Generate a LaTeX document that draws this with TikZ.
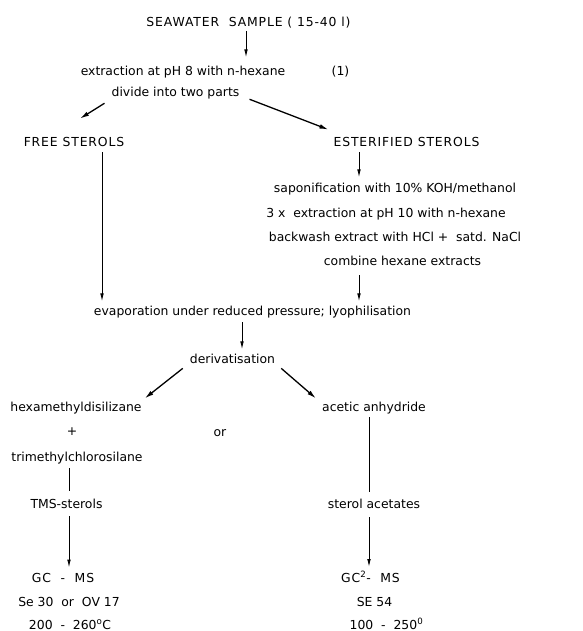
\documentclass[tikz,border=0pt]{standalone}
\usepackage{fontspec}
\setmainfont{DejaVu Sans}
\usetikzlibrary{arrows.meta}
\begin{document}
\begin{tikzpicture}[x=1pt,y=-1pt,
  lbl/.style={anchor=base,inner sep=0pt,font=\fontsize{12.4}{14}\selectfont},
  caps/.style={lbl,font=\fontsize{12.4}{14}\selectfont\addfontfeature{LetterSpace=7}},
  arr/.style={-{Latex[length=8pt,width=3.6pt]},line width=0.9pt},
  diag/.style={-{Latex[length=9pt,width=4.6pt]},line width=1.3pt},
  plain/.style={line width=0.9pt}]
\fill[white] (0,0) rectangle (582,631);
\useasboundingbox (0,0) rectangle (582,631);

% vertical columns used by the straight connectors
\coordinate (cSea) at (246,0);
\coordinate (cFree) at (102,0);
\coordinate (cEst) at (359,0);
\coordinate (cDer) at (242,0);
\coordinate (cL) at (69,0);
\coordinate (cR) at (369,0);

% texts
\node[caps] (sea) at (248.5,27) {SEAWATER\ \ SAMPLE\ ( 15-40 l)};
\node[lbl] (ext) at (183,76) {extraction at pH 8 with n-hexane};
\node[lbl] (ref) at (340.5,76) {(1)};
\node[lbl] (div) at (175.5,97) {divide into two parts};
\node[caps] (free) at (74,147) {FREE STEROLS};
\node[caps] (est) at (406.5,147) {ESTERIFIED STEROLS};
\node[lbl] (sap) at (395,193) {saponification with 10\% KOH/methanol};
\node[lbl] (three) at (386,217) {3 x\ \ extraction at pH 10 with n-hexane};
\node[lbl] (back) at (395,241) {backwash extract with HCl +\ \ satd. NaCl};
\node[lbl] (comb) at (402.5,265) {combine hexane extracts};
\node[lbl] (evap) at (252.5,315) {evaporation under reduced pressure; lyophilisation};
\node[lbl] (der) at (232.5,363) {derivatisation};
\node[lbl] (hexa) at (76,411) {hexamethyldisilizane};
\node[lbl] (plus) at (72,435) {+};
\node[lbl] (or) at (220,436) {or};
\node[lbl] (trim) at (77,461) {trimethylchlorosilane};
\node[lbl] (acet) at (374,411) {acetic anhydride};
\node[lbl] (tms) at (66.5,508) {TMS-sterols};
\node[lbl] (sac) at (374,508) {sterol acetates};
\node[caps] (gc1) at (63,582) {GC\ \ -\ \ MS};
\node[lbl] (se30) at (69,606) {Se 30\ \ or\ \ OV 17};
\node[lbl] (tmp1) at (70,629) {200\ \ -\ \ 260\textsuperscript{o}C};
\node[caps] (gc2) at (370.5,582) {GC\textsuperscript{2}-\ \ MS};
\node[lbl] (se54) at (374.5,606) {SE 54};
\node[lbl] (tmp2) at (386.5,629) {100\ \ -\ \ 250\textsuperscript{0}};

% connectors
\draw[arr,shorten <=2pt,shorten >=9pt] (sea.south -| cSea) -- (ext.north -| cSea);
\draw[diag] ([shift={(-7,3.5)}]div.south west) -- ([shift={(6,-19)}]free.north);
\draw[diag] ([shift={(10,-0.5)}]div.south east) -- ([shift={(-5,-8)}]est.north west);
\draw[arr,shorten <=5pt,shorten >=4pt] (free.south -| cFree) -- (evap.north -| cFree);
\draw[arr,shorten <=5pt,shorten >=6pt] (est.south -| cEst) -- (sap.north -| cEst);
\draw[arr,shorten <=10pt,shorten >=4pt] (comb.south -| cEst) -- (evap.north -| cEst);
\draw[arr,shorten <=4.5pt,shorten >=4pt] (evap.south -| cDer) -- (der.north -| cDer);
\draw[diag] ([shift={(-7,5)}]der.south west) -- ([shift={(3,-3)}]hexa.north east);
\draw[diag] ([shift={(6,5)}]der.south east) -- ([shift={(-6,-3)}]acet.north west);
\draw[plain,shorten <=4.5pt,shorten >=7pt] (trim.south -| cL) -- (tms.north -| cL);
\draw[plain,shorten <=3.5pt,shorten >=6pt] (acet.south -| cR) -- (sac.north -| cR);
\draw[arr,shorten <=8pt,shorten >=5pt] (tms.south -| cL) -- (gc1.north -| cL);
\draw[arr,shorten <=9pt,shorten >=4pt] (sac.south -| cR) -- (gc2.north -| cR);
\end{tikzpicture}
\end{document}
